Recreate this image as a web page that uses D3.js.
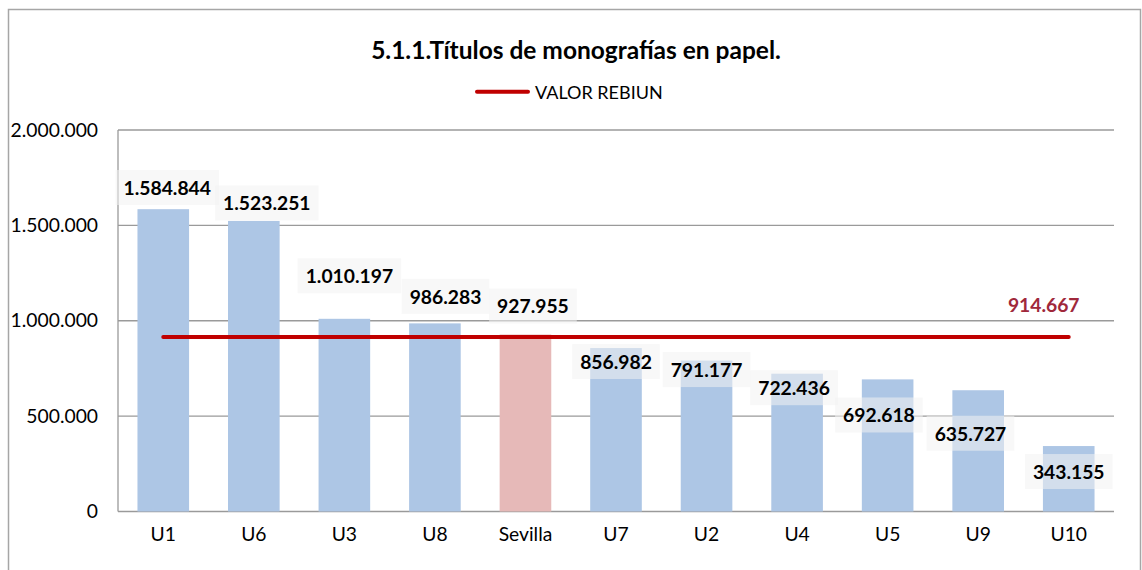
<!DOCTYPE html>
<html><head><meta charset="utf-8">
<script src="https://cdn.jsdelivr.net/npm/d3@7/dist/d3.min.js"></script>
<style>body{margin:0;background:#fff}svg{display:block}text{font-family:Lato,"Open Sans",sans-serif}</style>
</head><body><svg id="c" width="1142" height="570"></svg>
<script>
const categories = ["U1","U6","U3","U8","Sevilla","U7","U2","U4","U5","U9","U10"];
const values = [1584844,1523251,1010197,986283,927955,856982,791177,722436,692618,635727,343155];
const highlight = ["Sevilla"];
const rebiunValue = 914667;
const yTicks = [0,500000,1000000,1500000,2000000];
const title = "5.1.1.Títulos de monografías en papel.";
const legendLabel = "VALOR REBIUN";

// label box placement (layout, px offsets from bar top/center)
const labelDx = [4,13,5,10.6,7.5,0,0,-3,-8.7,-7.7,0];
const labelDy = [-21.7,-18,-43,-27,-28.5,13.5,9,14,35.6,43,25.5];

const svg = d3.select("#c");
const loc = d3.formatLocale({decimal:",",thousands:".",grouping:[3],currency:["",""]});
const fmt = loc.format(",d");

const x = d3.scaleBand().domain(categories).range([118,1114]).paddingInner(0.43).paddingOuter(0.215);
const y = d3.scaleLinear().domain([0,2000000]).range([511.5,130]);

// outer frame
svg.append("rect").attr("x",8.5).attr("y",9.5).attr("width",1132).attr("height",620)
  .attr("fill","none").attr("stroke","#a6a6a6").attr("stroke-width",1.5);

// grid
svg.append("g").selectAll("line").data(yTicks).join("line")
  .attr("x1",118).attr("x2",1114).attr("y1",d=>y(d)).attr("y2",d=>y(d))
  .attr("stroke","#9a9a9a").attr("stroke-width",1.3);
svg.append("line").attr("x1",118).attr("x2",118).attr("y1",y(2000000)).attr("y2",y(0))
  .attr("stroke","#9a9a9a").attr("stroke-width",1.3);

// y axis labels
const ya = svg.append("g").attr("transform","translate(118,0)")
  .call(d3.axisLeft(y).tickValues(yTicks).tickFormat(fmt).tickSize(0).tickPadding(20));
ya.select(".domain").remove();
ya.selectAll("text").attr("font-size",19.3).attr("fill","#000").style("font-family","Lato,'Open Sans',sans-serif");

// x axis labels
const xa = svg.append("g").attr("transform",`translate(0,${y(0)})`)
  .call(d3.axisBottom(x).tickSize(0).tickPadding(16));
xa.select(".domain").remove();
xa.selectAll("text").attr("font-size",19.3).attr("fill","#000").style("font-family","Lato,'Open Sans',sans-serif");

// bars
svg.append("g").selectAll("rect").data(categories).join("rect")
  .attr("x",d=>x(d)).attr("width",x.bandwidth())
  .attr("y",(d,i)=>y(values[i])).attr("height",(d,i)=>y(0)-y(values[i]))
  .attr("fill",d=>highlight.includes(d)?"#e6b9b8":"#adc6e5");

// rebiun line
const cx = d=>x(d)+x.bandwidth()/2;
svg.append("line").attr("x1",cx(categories[0])).attr("x2",cx(categories[categories.length-1]))
  .attr("y1",y(rebiunValue)).attr("y2",y(rebiunValue))
  .attr("stroke","#c00000").attr("stroke-width",4).attr("stroke-linecap","round");
svg.append("text").attr("x",cx(categories[categories.length-1])-25).attr("y",y(rebiunValue)-33)
  .attr("text-anchor","middle").attr("dominant-baseline","central")
  .attr("font-size",19.3).attr("font-weight","bold").attr("fill","#a0283b").text(fmt(rebiunValue));

// data labels
const lg = svg.append("g");
categories.forEach((c,i)=>{
  const bx = cx(c)+labelDx[i], by = y(values[i])+labelDy[i];
  const t = lg.append("text").attr("x",bx).attr("y",by).attr("text-anchor","middle")
    .attr("dominant-baseline","central").attr("font-size",19.3).attr("font-weight","bold")
    .attr("fill","#000").text(fmt(values[i]));
  const w = t.node().getComputedTextLength()+16;
  lg.insert("rect","text").attr("x",bx-w/2).attr("y",by-17.5).attr("width",w).attr("height",35)
    .attr("fill","#f2f2f2").attr("fill-opacity",0.55);
});
lg.selectAll("text").raise();

// title
svg.append("text").attr("x",576).attr("y",59).attr("text-anchor","middle")
  .attr("font-size",24.5).attr("font-weight","bold").attr("fill","#000").text(title);

// legend
svg.append("line").attr("x1",477).attr("x2",528).attr("y1",91.7).attr("y2",91.7)
  .attr("stroke","#c00000").attr("stroke-width",4).attr("stroke-linecap","round");
svg.append("text").attr("x",535).attr("y",91.5).attr("dominant-baseline","central")
  .attr("font-size",18).attr("fill","#000").text(legendLabel);
</script></body></html>
